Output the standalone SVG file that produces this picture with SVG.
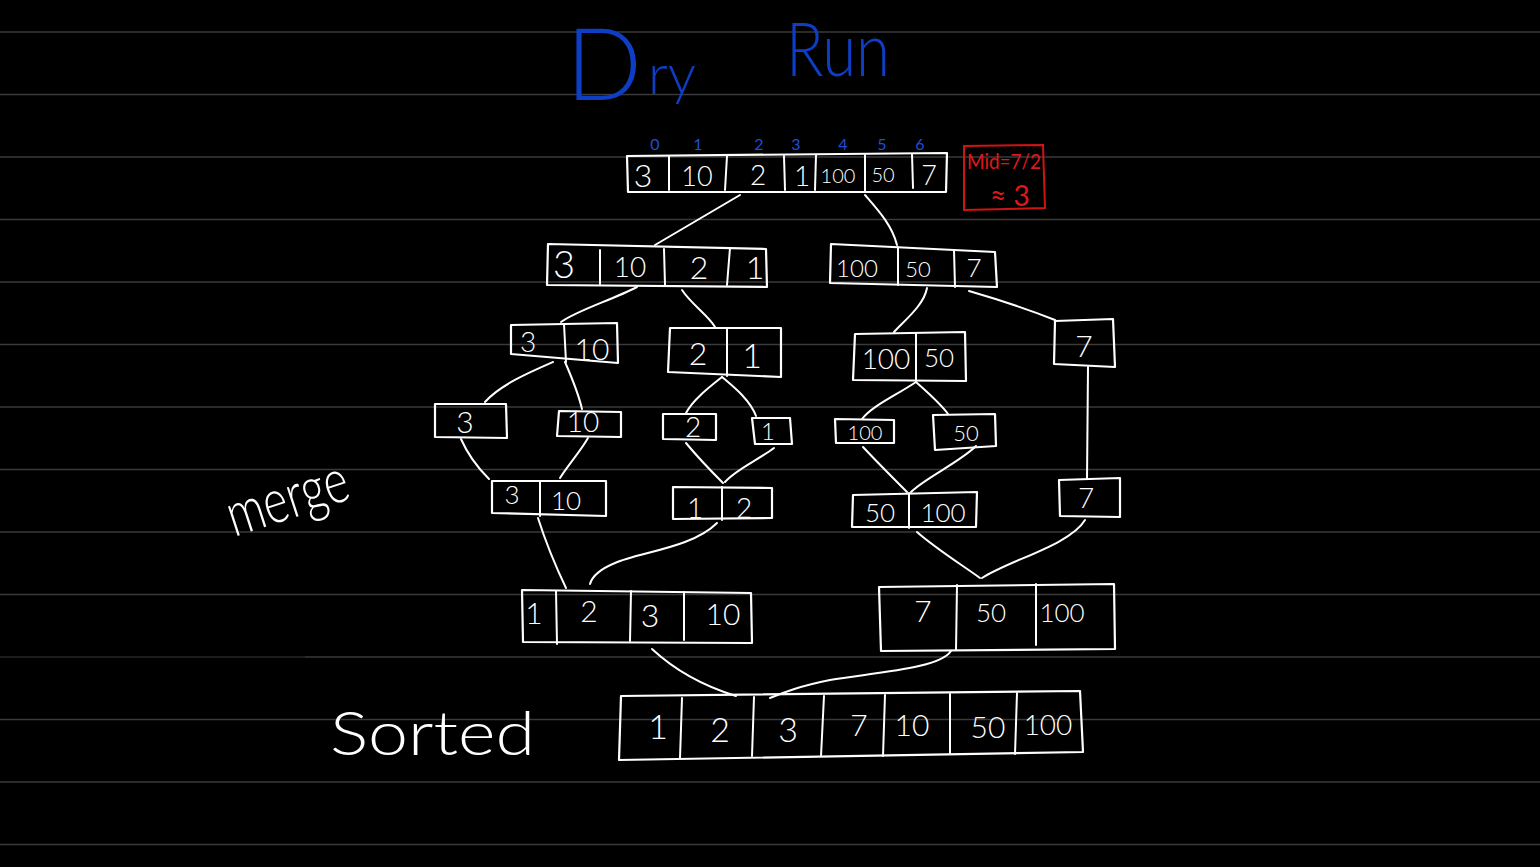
<svg xmlns="http://www.w3.org/2000/svg" width="1540" height="867" viewBox="0 0 1540 867">
<style>
.rule{stroke:#3a3a3a;stroke-width:1.6}
.box{fill:none;stroke:#ffffff;stroke-width:2.2;stroke-linejoin:round;stroke-linecap:round}
.div{fill:none;stroke:#ffffff;stroke-width:2;stroke-linecap:round}
.con{fill:none;stroke:#ffffff;stroke-width:2;stroke-linecap:round}
.n{fill:#ffffff;font-family:Lato,"Liberation Sans",sans-serif;font-weight:300;text-anchor:middle;dominant-baseline:central}
.blue{fill:#0d3ec4;font-family:Lato,"Liberation Sans",sans-serif;font-weight:300}
.idx{fill:#1d4fd8;font-family:Lato,"Liberation Sans",sans-serif;font-weight:400;font-size:16px;text-anchor:middle}
.red{fill:#e01818;font-family:Lato,"Liberation Sans",sans-serif;font-weight:400}
.lbl{fill:#ffffff;font-family:Lato,"Liberation Sans",sans-serif;font-weight:300}
</style>
<rect width="1540" height="867" fill="#000000"/>
<g id="ruled-lines">
<line class="rule" x1="0" y1="32" x2="1540" y2="32"/>
<line class="rule" x1="0" y1="94.5" x2="1540" y2="94.5"/>
<line class="rule" x1="0" y1="157" x2="1540" y2="157"/>
<line class="rule" x1="0" y1="219.5" x2="1540" y2="219.5"/>
<line class="rule" x1="0" y1="282" x2="1540" y2="282"/>
<line class="rule" x1="0" y1="344.5" x2="1540" y2="344.5"/>
<line class="rule" x1="0" y1="407" x2="1540" y2="407"/>
<line class="rule" x1="0" y1="469.5" x2="1540" y2="469.5"/>
<line class="rule" x1="0" y1="532" x2="1540" y2="532"/>
<line class="rule" x1="0" y1="594.5" x2="1540" y2="594.5"/>
<line x1="0" y1="657" x2="305" y2="657" stroke="#262626" stroke-width="1.6"/>
<line class="rule" x1="305" y1="657" x2="1540" y2="657"/>
<line class="rule" x1="0" y1="719.5" x2="1540" y2="719.5"/>
<line class="rule" x1="0" y1="782" x2="1540" y2="782"/>
<line class="rule" x1="0" y1="844.5" x2="1540" y2="844.5"/>
</g>

<g id="title">
<text class="blue" x="566" y="100"><tspan font-size="100">D</tspan><tspan font-size="56" dx="6" dy="-6">ry</tspan></text>
<text class="blue" x="786" y="76" font-size="74" textLength="104" lengthAdjust="spacingAndGlyphs">Run</text>
</g>

<g id="indices">
<text class="idx" x="655" y="150">0</text>
<text class="idx" x="698" y="150">1</text>
<text class="idx" x="759" y="150">2</text>
<text class="idx" x="796" y="150">3</text>
<text class="idx" x="843" y="150">4</text>
<text class="idx" x="882" y="150">5</text>
<text class="idx" x="920" y="150">6</text>
</g>

<g id="mid-note">
<path d="M964,146 L1043,145 L1045,208 L964,210 Z" fill="none" stroke="#d01414" stroke-width="2"/>
<text class="red" x="967" y="169" font-size="21" textLength="74" lengthAdjust="spacingAndGlyphs">Mid=7/2</text>
<text class="red" x="990" y="206" font-size="28">≈ 3</text>
</g>

<g id="connectors">
<path class="con" d="M740,195 L655,245"/>
<path class="con" d="M865,195 C878,210 892,225 897,245"/>
<path class="con" d="M637,287 C612,300 578,310 561,322"/>
<path class="con" d="M682,290 C692,305 708,315 715,327"/>
<path class="con" d="M927,288 C924,305 905,320 894,332"/>
<path class="con" d="M969,291 C1000,300 1030,310 1055,320"/>
<path class="con" d="M1088,367 L1087,479"/>
<path class="con" d="M553,362 C530,372 500,385 485,402"/>
<path class="con" d="M565,362 C572,378 578,392 582,409"/>
<path class="con" d="M722,377 C708,388 693,400 686,413"/>
<path class="con" d="M722,377 C735,388 750,400 756,416"/>
<path class="con" d="M916,382 C895,396 872,406 862,419"/>
<path class="con" d="M916,382 C928,393 940,403 948,414"/>
<path class="con" d="M461,439 C468,455 478,468 489,479"/>
<path class="con" d="M588,438 C580,452 568,465 560,478"/>
<path class="con" d="M686,443 C700,460 712,472 723,483"/>
<path class="con" d="M774,448 C758,460 735,470 725,482"/>
<path class="con" d="M863,447 C878,463 895,480 907,492"/>
<path class="con" d="M976,446 C960,462 925,478 911,492"/>
<path class="con" d="M538,518 C545,540 555,565 566,588"/>
<path class="con" d="M717,523 C692,548 640,552 615,563 C598,570 592,577 590,584"/>
<path class="con" d="M917,532 C935,548 962,565 980,578"/>
<path class="con" d="M1085,520 C1070,545 1010,560 982,578"/>
<path class="con" d="M652,649 C680,675 710,688 736,696"/>
<path class="con" d="M951,651 C940,668 880,672 830,680 C800,686 785,692 770,698"/>
</g>

<g id="node-root">
<path class="box" d="M627,156 L947,153 L946,192 L628,192 Z"/>
<path class="div" d="M669,156 L669,190 M727,156 L725,190 M784,156 L785,190 M816,155 L815,190 M865,155 L865,192 M912,154 L913,188"/>
<text class="n" x="643" y="174" font-size="32">3</text>
<text class="n" x="697" y="175" font-size="27">10</text>
<text class="n" x="758" y="174" font-size="28">2</text>
<text class="n" x="802" y="175" font-size="28">1</text>
<text class="n" x="838" y="175" font-size="20">100</text>
<text class="n" x="883" y="174" font-size="20">50</text>
<text class="n" x="929" y="174" font-size="27">7</text>
</g>

<g id="node-L">
<path class="box" d="M548,244 L766,249 L767,287 L547,285 Z"/>
<path class="div" d="M600,250 L600,284 M664,249 L665,285 M730,248 L727,285"/>
<text class="n" x="564" y="263" font-size="38">3</text>
<text class="n" x="630" y="266" font-size="28">10</text>
<text class="n" x="699" y="266" font-size="32">2</text>
<text class="n" x="755" y="266" font-size="32">1</text>
</g>

<g id="node-R">
<path class="box" d="M831,244 L995,252 L997,287 L830,283 Z"/>
<path class="div" d="M898,247 L898,285 M954,250 L955,287"/>
<text class="n" x="857" y="267" font-size="24">100</text>
<text class="n" x="918" y="268" font-size="22">50</text>
<text class="n" x="974" y="267" font-size="26">7</text>
</g>

<g id="node-LL">
<path class="box" d="M511,325 L617,323 L618,363 L511,354 Z"/>
<path class="div" d="M564,324 L566,362"/>
<text class="n" x="528" y="341" font-size="28">3</text>
<text class="n" x="592" y="348" font-size="30">10</text>
</g>

<g id="node-LR">
<path class="box" d="M670,328 L781,328 L781,377 L668,372 Z"/>
<path class="div" d="M727,328 L727,376"/>
<text class="n" x="698" y="352" font-size="32">2</text>
<text class="n" x="752" y="354" font-size="34">1</text>
</g>

<g id="node-RL">
<path class="box" d="M855,334 L965,332 L966,381 L853,380 Z"/>
<path class="div" d="M916,333 L916,381"/>
<text class="n" x="886" y="358" font-size="28">100</text>
<text class="n" x="939" y="357" font-size="26">50</text>
</g>

<g id="node-RR">
<path class="box" d="M1055,321 L1113,319 L1115,367 L1054,364 Z"/>
<text class="n" x="1084" y="345" font-size="30">7</text>
</g>

<g id="leaf-3">
<path class="box" d="M435,404 L506,404 L507,438 L435,437 Z"/>
<text class="n" x="465" y="421" font-size="30">3</text>
</g>
<g id="leaf-10">
<path class="box" d="M559,411 L621,412 L621,437 L557,436 Z"/>
<text class="n" x="583" y="421" font-size="28">10</text>
</g>
<g id="leaf-2">
<path class="box" d="M663,414 L716,414 L716,440 L663,439 Z"/>
<text class="n" x="693" y="426" font-size="28">2</text>
</g>
<g id="leaf-1">
<path class="box" d="M752,418 L790,418 L792,444 L755,444 Z"/>
<text class="n" x="768" y="430" font-size="24">1</text>
</g>
<g id="leaf-100">
<path class="box" d="M835,419 L894,420 L894,443 L836,443 Z"/>
<text class="n" x="865" y="432" font-size="20">100</text>
</g>
<g id="leaf-50">
<path class="box" d="M933,415 L995,414 L996,446 L935,450 Z"/>
<text class="n" x="966" y="432" font-size="22">50</text>
</g>

<g id="merge-3-10">
<path class="box" d="M492,481 L606,481 L606,516 L492,513 Z"/>
<path class="div" d="M540,481 L540,516"/>
<text class="n" x="512" y="494" font-size="26">3</text>
<text class="n" x="566" y="500" font-size="26">10</text>
</g>
<g id="merge-1-2">
<path class="box" d="M673,487 L772,488 L772,518 L673,519 Z"/>
<path class="div" d="M722,487 L722,520"/>
<text class="n" x="695" y="507" font-size="28">1</text>
<text class="n" x="744" y="507" font-size="28">2</text>
</g>
<g id="merge-50-100">
<path class="box" d="M853,495 L977,492 L976,527 L852,527 Z"/>
<path class="div" d="M909,493 L909,528"/>
<text class="n" x="880" y="512" font-size="26">50</text>
<text class="n" x="943" y="512" font-size="26">100</text>
</g>
<g id="merge-7">
<path class="box" d="M1059,480 L1120,478 L1120,517 L1060,516 Z"/>
<text class="n" x="1086" y="497" font-size="28">7</text>
</g>

<g id="merge-1-2-3-10">
<path class="box" d="M522,590 L751,593 L752,643 L523,642 Z"/>
<path class="div" d="M556,591 L557,644 M631,591 L630,641 M684,592 L684,640"/>
<text class="n" x="534" y="612" font-size="30">1</text>
<text class="n" x="589" y="610" font-size="30">2</text>
<text class="n" x="650" y="614" font-size="32">3</text>
<text class="n" x="723" y="613" font-size="30">10</text>
</g>
<g id="merge-7-50-100">
<path class="box" d="M879,587 L1114,584 L1115,649 L881,651 Z"/>
<path class="div" d="M957,585 L956,650 M1036,584 L1036,645"/>
<text class="n" x="923" y="610" font-size="30">7</text>
<text class="n" x="991" y="612" font-size="26">50</text>
<text class="n" x="1062" y="612" font-size="26">100</text>
</g>

<g id="sorted-array">
<path class="box" d="M621,696 L1080,691 L1083,752 L619,760 Z"/>
<path class="div" d="M682,698 L680,758 M754,697 L752,756 M824,696 L821,756 M885,695 L883,756 M950,694 L950,754 M1017,693 L1015,754"/>
<text class="n" x="658" y="725" font-size="34">1</text>
<text class="n" x="720" y="728" font-size="34">2</text>
<text class="n" x="788" y="728" font-size="34">3</text>
<text class="n" x="859" y="724" font-size="30">7</text>
<text class="n" x="912" y="724" font-size="30">10</text>
<text class="n" x="988" y="726" font-size="30">50</text>
<text class="n" x="1048" y="724" font-size="28">100</text>
</g>

<g id="labels">
<text class="lbl" x="0" y="0" font-size="62" transform="translate(234,537) rotate(-18)" textLength="125" lengthAdjust="spacingAndGlyphs">merge</text>
<text class="lbl" x="330" y="755" font-size="62" textLength="205" lengthAdjust="spacingAndGlyphs">Sorted</text>
</g>
</svg>
